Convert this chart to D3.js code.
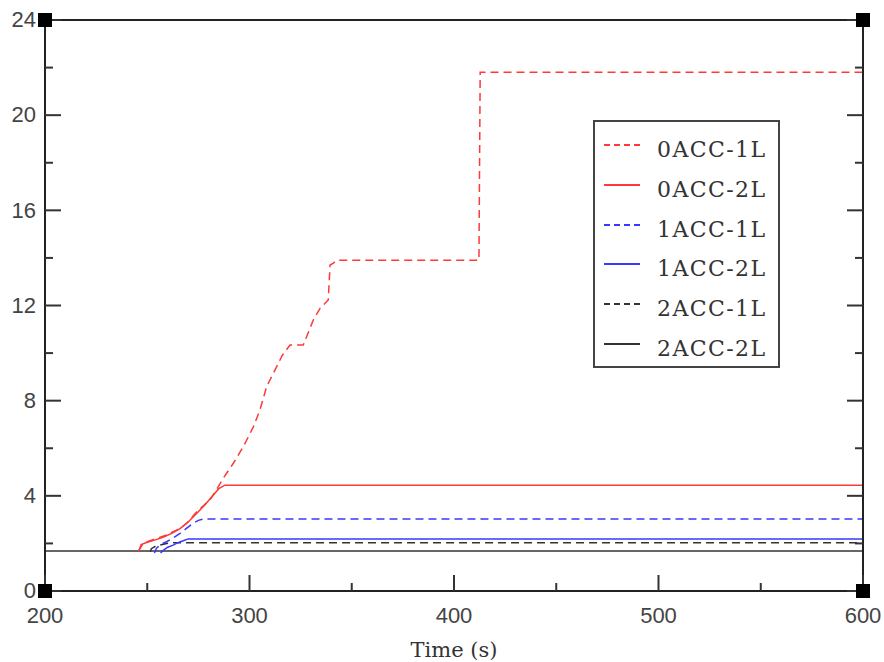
<!DOCTYPE html>
<html><head><meta charset="utf-8">
<script src="https://cdn.jsdelivr.net/npm/d3@7"></script>
<style>body{margin:0;background:#fff}svg{display:block}</style>
</head><body><svg id="c" width="884" height="662"></svg>
<script>
// ---- data ----
const seriesNames = ["0ACC-1L","0ACC-2L","1ACC-1L","1ACC-2L","2ACC-1L","2ACC-2L"];
const t0ACC1L = [245.5,246.5,248,251,254.6,258.7,262.7,266,269.3,274.2,277,280.7,284.7,287.2,292.1,297,301.9,305.1,308.4,310,313.3,316,319.8,326.3,331.2,334.5,338.5,339.4,341,342.6,412.2,412.8,413.7,600];
const v0ACC1L = [1.68,1.78,2.0,2.1,2.21,2.33,2.49,2.62,2.85,3.33,3.55,3.83,4.38,4.74,5.37,6.07,6.9,7.61,8.59,8.87,9.43,9.9,10.34,10.34,11.39,11.88,12.23,13.7,13.78,13.9,13.9,21.8,21.8,21.8];
const t0ACC2L = [246,247,250,254,258,262,266,270,274,278,282,285,288,600];
const v0ACC2L = [1.7,1.95,2.05,2.15,2.27,2.42,2.62,2.9,3.25,3.6,4.0,4.3,4.45,4.45];
const t1ACC1L = [253.5,254.5,257,259.5,263,266,269,272.5,275,277.5,600];
const v1ACC1L = [1.6,1.8,1.98,2.07,2.25,2.42,2.62,2.85,2.97,3.03,3.03];
const t1ACC2L = [256.5,258,260,262.7,265,267.6,270,600];
const v1ACC2L = [1.6,1.72,1.84,1.93,2.03,2.11,2.19,2.19];
const t2ACC1L = [251.5,252,254,256,259,262.7,600];
const v2ACC1L = [1.65,1.78,1.88,1.93,1.99,2.03,2.03];
const t2ACC2L = [200,600];
const v2ACC2L = [1.68,1.68];
const xTicks = [200,300,400,500,600];
const xMinor = [250,350,450,550];
const yTicks = [0,4,8,12,16,20,24];
const yMinor = [2,6,10,14,18,22];
const xLabel = "Time (s)";

const colors = ["#ff3838","#ff3838","#3838ff","#3838ff","#333","#333"];
const dashed = [true,false,true,false,true,false];
const tArr = [t0ACC1L,t0ACC2L,t1ACC1L,t1ACC2L,t2ACC1L,t2ACC2L];
const vArr = [v0ACC1L,v0ACC2L,v1ACC1L,v1ACC2L,v2ACC1L,v2ACC2L];

// ---- layout ----
const L=45,R=863,T=20,B=591;
const x=d3.scaleLinear().domain([200,600]).range([L,R]);
const y=d3.scaleLinear().domain([0,24]).range([B,T]);
const svg=d3.select("#c");

svg.append("defs").append("clipPath").attr("id","clip")
  .append("rect").attr("x",L).attr("y",T).attr("width",R-L).attr("height",B-T);

const line=d3.line().x(d=>x(d[0])).y(d=>y(d[1]));
const g=svg.append("g").attr("clip-path","url(#clip)");
for(let i=tArr.length-1;i>=0;i--){
  const pts=tArr[i].map((t,j)=>[t,vArr[i][j]]);
  g.append("path").datum(pts).attr("d",line).attr("fill","none")
   .attr("stroke",colors[i]).attr("stroke-width",1.5)
   .attr("stroke-dasharray",dashed[i]?"8,5":null);
}

// frame
svg.append("rect").attr("x",L).attr("y",T).attr("width",R-L).attr("height",B-T)
  .attr("fill","none").attr("stroke","#222").attr("stroke-width",2);

// ticks (left, right, bottom; none on top)
const tk=svg.append("g").attr("stroke","#333").attr("stroke-width",2);
function yt(v,len){
  tk.append("line").attr("x1",L).attr("x2",L+len).attr("y1",y(v)).attr("y2",y(v));
  tk.append("line").attr("x1",R).attr("x2",R-len).attr("y1",y(v)).attr("y2",y(v));
}
function xt(v,len){
  tk.append("line").attr("y1",B).attr("y2",B-len).attr("x1",x(v)).attr("x2",x(v));
}
yTicks.forEach(v=>yt(v,16)); yMinor.forEach(v=>yt(v,8));
xTicks.forEach(v=>xt(v,16)); xMinor.forEach(v=>xt(v,8));

// corner squares
[[200,0],[600,0],[200,24],[600,24]].forEach(c=>{
  svg.append("rect").attr("x",x(c[0])-7).attr("y",y(c[1])-7).attr("width",14).attr("height",14).attr("fill","#000");
});

// tick labels
const lf="'Liberation Sans', Arial, sans-serif";
svg.append("g").selectAll("text").data(yTicks).join("text")
  .attr("x",L-9).attr("y",d=>y(d)).attr("dy","0.33em").attr("text-anchor","end")
  .attr("font-family",lf).attr("font-size",22).attr("fill","#444").text(d=>d);
svg.append("g").selectAll("text").data(xTicks).join("text")
  .attr("x",d=>x(d)).attr("y",623).attr("text-anchor","middle")
  .attr("font-family",lf).attr("font-size",22).attr("fill","#444").text(d=>d);
svg.append("text").attr("x",(L+R)/2).attr("y",657).attr("text-anchor","middle")
  .attr("font-family","'DejaVu Serif', serif").attr("font-size",21).attr("fill","#333").text(xLabel);

// legend
svg.append("rect").attr("x",594).attr("y",121).attr("width",185).attr("height",246)
  .attr("fill","#fff").attr("stroke","#444").attr("stroke-width",2);
const ly=[145,185,225,264,304,344];
seriesNames.forEach((n,i)=>{
  svg.append("line").attr("x1",604).attr("x2",640).attr("y1",ly[i]).attr("y2",ly[i])
    .attr("stroke",colors[i]).attr("stroke-width",2).attr("stroke-dasharray",dashed[i]?"6,4":null);
  svg.append("text").attr("x",657).attr("y",ly[i]+11.5)
    .attr("font-family","'DejaVu Serif', serif").attr("font-size",22).attr("letter-spacing",1.4)
    .attr("fill","#333").text(n);
});
</script></body></html>
